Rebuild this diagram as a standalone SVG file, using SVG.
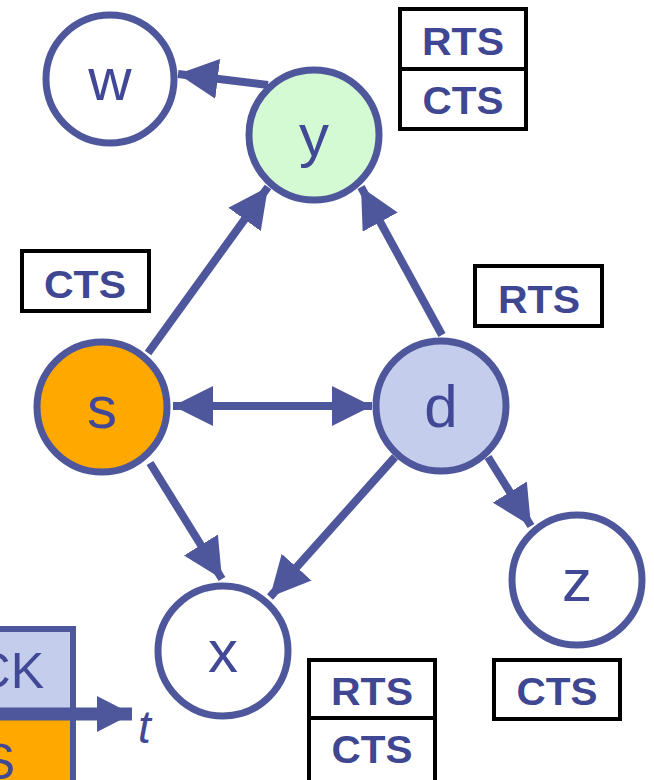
<svg xmlns="http://www.w3.org/2000/svg" width="654" height="780" viewBox="0 0 654 780">
<defs>
<style>
.node{stroke:#4f579c;stroke-width:7}
.lbl{font-family:"Liberation Sans",Arial,sans-serif;font-size:60px;fill:#414896;text-anchor:middle}
.box{fill:#fff;stroke:#000;stroke-width:4}
.btxt{font-family:"Liberation Sans",Arial,sans-serif;font-size:38px;font-weight:bold;fill:#3f4692;text-anchor:middle}
.edge{stroke:#4f579c;stroke-width:8;fill:none}
.tbox{stroke:#4f579c;stroke-width:6}
</style>
<marker id="ah" markerUnits="userSpaceOnUse" markerWidth="40" markerHeight="40" refX="40" refY="20" orient="auto-start-reverse" viewBox="0 0 40 40">
<path d="M0,0 L40,20 L0,40 Z" fill="#4f579c"/>
</marker>
<marker id="th" markerUnits="userSpaceOnUse" markerWidth="36" markerHeight="36" refX="35" refY="18" orient="auto" viewBox="0 0 36 36">
<path d="M0,0 L35,18 L0,36 Z" fill="#4f579c"/>
</marker>
</defs>
<rect width="654" height="780" fill="#fff"/>

<g id="timeline">
<rect class="tbox" x="-10" y="629" width="83" height="83" fill="#c4cdec"/>
<rect class="tbox" x="-10" y="716" width="83" height="80" fill="#ffa800"/>
<text class="lbl" x="44" y="688" style="font-size:50px;text-anchor:end">CK</text>
<text class="lbl" x="15" y="779" style="font-size:50px;text-anchor:end">S</text>
<line x1="-10" y1="714" x2="132" y2="714" stroke="#4f579c" stroke-width="13" marker-end="url(#th)"/>
<text x="138" y="743" font-family="Liberation Sans,Arial,sans-serif" font-size="46" font-style="italic" fill="#414896">t</text>
</g>

<g id="connectors">
<line class="edge" x1="268" y1="85" x2="178" y2="74" marker-end="url(#ah)"/>
<line class="edge" x1="148" y1="353" x2="268" y2="187" marker-end="url(#ah)"/>
<line class="edge" x1="442" y1="335" x2="361" y2="187" marker-end="url(#ah)"/>
<line class="edge" x1="173" y1="406" x2="372" y2="406" marker-start="url(#ah)" marker-end="url(#ah)"/>
<line class="edge" x1="150" y1="463" x2="222" y2="579" marker-end="url(#ah)"/>
<line class="edge" x1="395" y1="457" x2="270" y2="597" marker-end="url(#ah)"/>
<line class="edge" x1="488" y1="457" x2="531" y2="526" marker-end="url(#ah)"/>
</g>

<g id="node-w"><circle class="node" cx="110" cy="79" r="64" fill="#fff"/><text class="lbl" x="110" y="100">w</text></g>
<g id="node-y"><circle class="node" cx="314" cy="135" r="65" fill="#d4fad4"/><text class="lbl" x="314" y="156">y</text></g>
<g id="node-s"><circle class="node" cx="102" cy="407" r="65" fill="#ffa800"/><text class="lbl" x="102" y="428">s</text></g>
<g id="node-d"><circle class="node" cx="441" cy="406" r="65" fill="#c4cdec"/><text class="lbl" x="441" y="427">d</text></g>
<g id="node-x"><circle class="node" cx="223" cy="651" r="65" fill="#fff"/><text class="lbl" x="223" y="672">x</text></g>
<g id="node-z"><circle class="node" cx="577" cy="580" r="65" fill="#fff"/><text class="lbl" x="577" y="601">z</text></g>

<g id="label-y-rts"><rect class="box" x="400" y="9" width="126" height="60"/><text class="btxt" x="463" y="55" textLength="82" lengthAdjust="spacingAndGlyphs">RTS</text></g>
<g id="label-y-cts"><rect class="box" x="400" y="69" width="126" height="60"/><text class="btxt" x="463" y="114" textLength="81" lengthAdjust="spacingAndGlyphs">CTS</text></g>
<g id="label-s-cts"><rect class="box" x="22" y="251" width="127" height="60"/><text class="btxt" x="85" y="298" textLength="82" lengthAdjust="spacingAndGlyphs">CTS</text></g>
<g id="label-d-rts"><rect class="box" x="475" y="266" width="127" height="60"/><text class="btxt" x="539" y="313" textLength="82" lengthAdjust="spacingAndGlyphs">RTS</text></g>
<g id="label-x-rts"><rect class="box" x="309" y="660" width="126" height="58"/><text class="btxt" x="372" y="705" textLength="82" lengthAdjust="spacingAndGlyphs">RTS</text></g>
<g id="label-x-cts"><rect class="box" x="309" y="718" width="126" height="64"/><text class="btxt" x="372" y="763" textLength="81" lengthAdjust="spacingAndGlyphs">CTS</text></g>
<g id="label-z-cts"><rect class="box" x="494" y="660" width="126" height="59"/><text class="btxt" x="557" y="705" textLength="81" lengthAdjust="spacingAndGlyphs">CTS</text></g>
</svg>
